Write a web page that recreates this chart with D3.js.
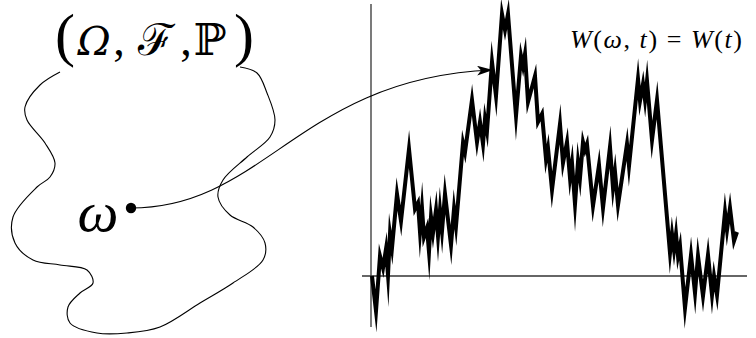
<!DOCTYPE html>
<html><head><meta charset="utf-8">
<script src="https://cdn.jsdelivr.net/npm/d3@7"></script>
<style>html,body{margin:0;padding:0;background:#fff;}svg{display:block;}</style>
</head><body>
<svg id="c" width="756" height="338"></svg>
<script>
// Brownian path sample: horizontal position (0..365) and value W
const pathT = [0,4,8,11,14,16,18,20,25,29,37,43,46,48,50,52,55,57,59,61,64,66,68,70,73,79,82,84,91,93,100,105,108,111,113,115,120,124,130,133,136,144,149,151,153,156,163,166,170,174,176,180,188,191,195,198,200,203,206,208,211,213,215,221,227,231,238,241,243,246,255,257,266,268,271,273,275,280,285,298,300,302,304,306,308,313,319,323,326,331,336,340,342,345,353,355,358,362,365];
const pathW = [0,-0.35,0.20,0.08,0.27,0.01,0.42,0.28,0.82,0.55,1.27,0.67,0.73,0.44,0.68,0.39,0.48,0.24,0.59,0.43,0.66,0.40,0.66,0.45,0.82,0.31,0.67,0.50,1.33,1.24,1.76,1.34,1.54,1.32,1.57,1.45,2.14,1.80,2.62,2.46,2.62,1.60,2.20,2.10,2.22,1.74,2.00,1.54,1.62,1.17,1.28,0.86,1.52,1.13,1.34,0.98,1.13,0.72,1.14,0.98,1.34,1.26,1.32,0.70,1.11,0.68,1.29,0.88,1.04,0.71,1.32,1.10,1.97,1.75,1.92,1.76,1.95,1.36,1.76,0.23,0.42,0.26,0.42,0.20,0.30,-0.32,0.21,-0.17,0.20,-0.20,0.21,-0.19,0.00,-0.19,0.64,0.46,0.68,0.35,0.44];

// sample-space outline (open curve beneath the triple)
const blobX = [60,40,25,27,45,55,50,37,13,15,33,60,87,93,80,68,70,97,127,160,200,233,263,265,253,230,218,223,247,270,275,267,257,240];
const blobY = [72,85,107,120,143,163,177,187,217,243,260,265,270,283,293,307,323,333,333,327,303,283,260,243,227,215,197,180,157,137,120,93,73,67];

const titleParts = ["(", "\u03A9", ",", "\u2131", ",", "\u2119", ")"];
const titleCenters = [65, 94, 119, 156, 186, 210, 244];
const omegaLabel = "\u03C9";
const pathLabel = ["W", "(", "\u03C9", ", ", "t", ") = ", "W", "(", "t", ")"];

const svg = d3.select("#c");
const x = d3.scaleLinear().domain([0, 365]).range([372, 737]);
const y = d3.scaleLinear().domain([0, 1]).range([276, 176]);

// axes
svg.append("line").attr("x1", 371).attr("x2", 371).attr("y1", 4).attr("y2", 327)
  .attr("stroke", "#333").attr("stroke-width", 1.3);
svg.append("line").attr("x1", 362).attr("x2", 747).attr("y1", y(0)).attr("y2", y(0))
  .attr("stroke", "#333").attr("stroke-width", 1.3);

// path
const pts = pathT.map((t, i) => [t, pathW[i]]);
svg.append("path").datum(pts)
  .attr("d", d3.line().x(d => x(d[0])).y(d => y(d[1])))
  .attr("fill", "none").attr("stroke", "#000").attr("stroke-width", 4)
  .attr("stroke-linejoin", "miter").attr("stroke-miterlimit", 40);

// blob
const bpts = blobX.map((v, i) => [v, blobY[i]]);
svg.append("path").datum(bpts)
  .attr("d", d3.line().curve(d3.curveCatmullRom.alpha(0.5)))
  .attr("fill", "none").attr("stroke", "#000").attr("stroke-width", 1.1);

// arrow
svg.append("defs").append("marker").attr("id", "ah")
  .attr("viewBox", "0 0 16 10").attr("refX", 15).attr("refY", 5)
  .attr("markerWidth", 16).attr("markerHeight", 10).attr("markerUnits", "userSpaceOnUse")
  .attr("orient", "auto")
  .append("path").attr("d", "M0,0 L16,5 L0,10 L4,5 Z").attr("fill", "#000");
svg.append("path").attr("d", "M131,208 C265,208 300,78 492,70")
  .attr("fill", "none").attr("stroke", "#000").attr("stroke-width", 1.1)
  .attr("marker-end", "url(#ah)");

// point
svg.append("circle").attr("cx", 131).attr("cy", 208).attr("r", 5.2).attr("fill", "#000");

// labels
svg.selectAll("text.title").data(titleParts).enter().append("text")
  .attr("class", "title")
  .attr("x", (d, i) => titleCenters[i]).attr("y", 55).attr("text-anchor", "middle")
  .attr("font-family", d => d === "\u03A9" ? "'DejaVu Serif', serif" : "'Liberation Serif', 'DejaVu Serif', serif")
  .attr("font-size", d => (d === "(" || d === ")") ? 60 : (d === "," ? 46 : (d === "\u03A9" ? 40 : 44)))
  .attr("font-style", d => d === "\u03A9" ? "italic" : "normal")
  .text(d => d);
svg.append("text").attr("x", 98).attr("y", 231).attr("text-anchor", "middle")
  .attr("font-family", "'Liberation Serif', 'DejaVu Serif', serif").attr("font-style", "italic")
  .attr("font-size", 58).text(omegaLabel);
const tl = svg.append("text").attr("x", 570).attr("y", 48)
  .attr("font-family", "'Liberation Serif', 'DejaVu Serif', serif").attr("font-size", 26)
  .attr("textLength", 172).attr("lengthAdjust", "spacing");
pathLabel.forEach((s, i) => {
  tl.append("tspan").attr("font-style", (s === "W" || s === "t" || s === "\u03C9") ? "italic" : "normal").text(s);
});
</script>
</body></html>
